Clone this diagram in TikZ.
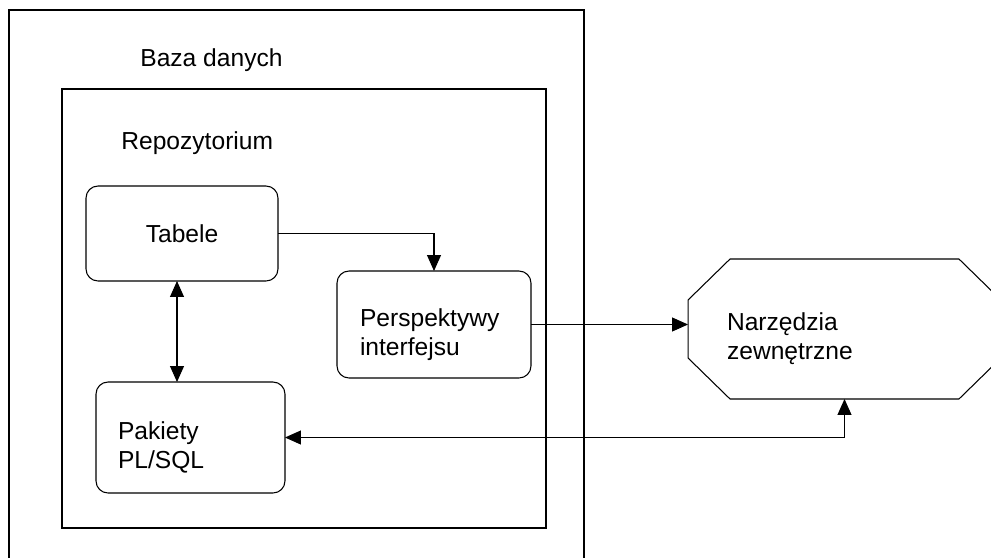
\documentclass[tikz,border=0pt]{standalone}
\usepackage{fontspec}
\setmainfont{Liberation Sans}
\usepackage{tikz}
\usetikzlibrary{positioning,arrows.meta,calc}

\newcommand{\podnies}{\rule{0pt}{0.75cm}}

\tikzset{
    >={Triangle[length=0.32cm,width=0.28cm]},
    modul/.style={draw, line width=0.6pt, rounded corners=0.24cm, outer sep=0pt,
        font=\fontsize{14}{16.5}\selectfont},
    napis/.style={anchor=west, inner sep=0pt, font=\fontsize{14}{16.5}\selectfont},
    strz/.style={line width=0.6pt, ->},
    dwustr/.style={line width=0.6pt, <->}
}

\begin{document}
\begin{tikzpicture}[x=0.02cm, y=-0.02cm]
        \useasboundingbox (0,0) rectangle (991,558);

        % Baza danych
        \draw[line width=1pt] (9,558) |- (584,10) -- (584,558);
        \node[napis] (baza) at (140,60) {Baza danych};

        % Repozytorium
        \draw[line width=0.8pt] (62,89) rectangle (546,528);
        \node[napis] (repo) at (121,143) {Repozytorium};

        \node[modul, minimum width=3.84cm, minimum height=1.9cm] (tab) at (182,233.5) {Tabele};
        \node[modul, minimum height=2.14cm, inner xsep=0.46cm, text width=2.96cm, align=left] (persp) at (434,324.5)
            {\podnies Perspektywy\\interfejsu};
        \node[modul, minimum height=2.22cm, inner xsep=0.44cm, text width=2.9cm, align=left] (pak) at (190.5,437.5)
            {\podnies Pakiety\\PL/SQL};

        % Narzedzia zewnetrzne
        \node[inner xsep=0.78cm, text width=4.7cm, minimum height=2.8cm, outer sep=0pt, align=left,
            font=\fontsize{14}{16.5}\selectfont] (narz) at (844.5,329) {\podnies Narzędzia\\zewnętrzne};
        \draw[line width=0.6pt] ($(narz.north west)+(42,0)$) -- ($(narz.north east)+(-42,0)$)
            -- ($(narz.north east)+(0,41)$) -- ($(narz.south east)+(0,-41)$)
            -- ($(narz.south east)+(-42,0)$) -- ($(narz.south west)+(42,0)$)
            -- ($(narz.south west)+(0,-41)$) -- ($(narz.north west)+(0,41)$) -- cycle;

        % polaczenia
        \draw[strz] (tab.east) -| (persp.north);
        \draw[dwustr] ([xshift=-0.1cm]tab.south) -- ([xshift=-0.1cm]tab.south |- pak.north);
        \draw[strz] (persp.east) -- (persp.east -| narz.west);
        \draw[dwustr] (pak.east) -| (narz.south);
\end{tikzpicture}
\end{document}
